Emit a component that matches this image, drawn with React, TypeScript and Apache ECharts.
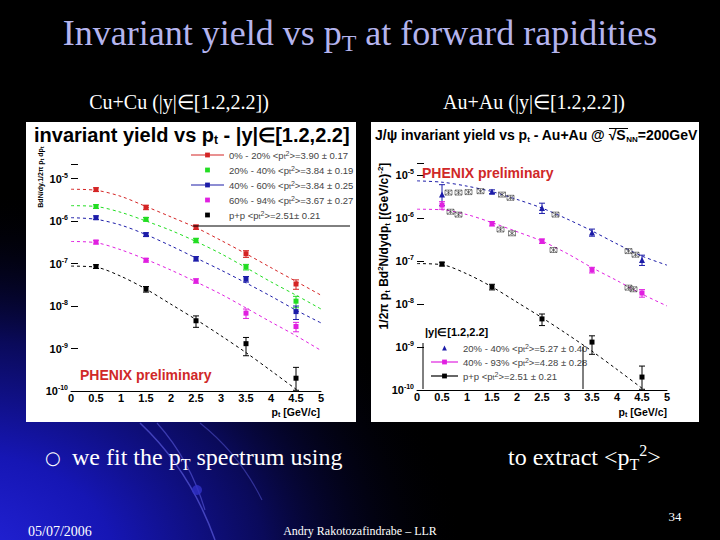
import React, { useEffect, useRef } from "react";
import * as echarts from "echarts";

// ---------- data ----------
const ptBins = [0.5, 1.5, 2.5, 3.5, 4.5];
const fitPt = [0, 0.5, 1, 1.5, 2, 2.5, 3, 3.5, 4, 4.5, 5];

// Cu+Cu
const cu0020 = [5.5e-6, 2.1e-6, 7.2e-7, 1.7e-7, 3.3e-8];
const cu2040 = [2.2e-6, 1.1e-6, 3.5e-7, 8.3e-8, 1.3e-8];
const cu4060 = [1.2e-6, 4.8e-7, 1.3e-7, 4.3e-8, 7.4e-9];
const cu6094 = [3.2e-7, 1.2e-7, 3.9e-8, 6.8e-9, 3.3e-9];
const cu0020Err = [0.1, 0.12, 0.12, 0.18, 0.25];
const cu2040Err = [0.1, 0.1, 0.12, 0.15, 0.3];
const cu4060Err = [0.1, 0.1, 0.12, 0.15, 0.35];
const cu6094Err = [0.1, 0.1, 0.12, 0.25, 0.25];
const cu0020Fit = [5.6e-6, 5.3e-6, 3.8e-6, 2.2e-6, 1.25e-6, 7e-7, 3.5e-7, 1.7e-7, 8e-8, 3.8e-8, 1.8e-8];
const cu2040Fit = [2.3e-6, 2.2e-6, 1.6e-6, 1.0e-6, 6e-7, 3.3e-7, 1.7e-7, 8e-8, 3.7e-8, 1.8e-8, 8.5e-9];
const cu4060Fit = [1.2e-6, 1.1e-6, 8e-7, 4.8e-7, 2.6e-7, 1.35e-7, 7e-8, 3.5e-8, 1.7e-8, 8e-9, 4e-9];
const cu6094Fit = [3.3e-7, 3.1e-7, 2.1e-7, 1.25e-7, 7e-8, 3.7e-8, 1.9e-8, 9e-9, 4.2e-9, 2e-9, 9e-10];

// p+p
const ppYield = [8.5e-8, 2.5e-8, 4.5e-9, 1.3e-9, 2.0e-10];
const ppErrUp = [0.1, 0.15, 0.3, 0.4, 0.8];
const ppErrDn = [0.1, 0.15, 0.3, 0.48, 0.48];
const ppFit = [8.7e-8, 8.2e-8, 5e-8, 2.5e-8, 1.1e-8, 4.8e-9, 2e-9, 8e-10, 3e-10, 1.1e-10, 4e-11];

// Au+Au
const au2040 = [3.5e-6, 4.1e-6, 1.7e-6, 4.6e-7, 1.05e-7];
const au2040ErrUp = [0.7, 0.1, 0.3, 0.2, 0.3];
const au2040ErrDn = [0.45, 0.1, 0.25, 0.18, 0.25];
const au4093 = [2.0e-6, 7.4e-7, 2.9e-7, 6.2e-8, 1.8e-8];
const au4093Err = [0.2, 0.12, 0.12, 0.15, 0.2];
const au2040Fit = [7.3e-6, 6.8e-6, 5.5e-6, 4.1e-6, 2.7e-6, 1.7e-6, 9.5e-7, 5e-7, 2.5e-7, 1.3e-7, 8e-8];
const au4093Fit = [1.6e-6, 1.55e-6, 1.2e-6, 7.8e-7, 4.8e-7, 2.9e-7, 1.5e-7, 7e-8, 3.5e-8, 1.7e-8, 9e-9];
const auHatchBlue = [[0.63, 3.9e-6], [0.83, 3.9e-6], [1.03, 4.0e-6], [1.27, 4.2e-6], [1.7, 3.5e-6], [1.87, 2.95e-6], [2.77, 1.2e-6], [4.23, 1.7e-7], [4.37, 1.4e-7]];
const auHatchMag = [[0.67, 1.4e-6], [0.83, 1.2e-6], [1.67, 5.4e-7], [1.9, 4.4e-7], [2.73, 1.8e-7], [4.23, 2.4e-8], [4.33, 2.2e-8]];

const xTickLabels = ["0", "0.5", "1", "1.5", "2", "2.5", "3", "3.5", "4", "4.5", "5"];

// ---------- names / legend texts ----------
const N_CU0020 = "Cu 0% - 20%";
const N_CU2040 = "Cu 20% - 40%";
const N_CU4060 = "Cu 40% - 60%";
const N_CU6094 = "Cu 60% - 94%";
const N_CUPP = "Cu p+p";
const N_AU2040 = "Au 20% - 40%";
const N_AU4093 = "Au 40% - 93%";
const N_AUPP = "Au p+p";

const legendText: Record<string, string> = {
  [N_CU0020]: "0% - 20% <p{sub|t}{sup|2}>=3.90 ± 0.17",
  [N_CU2040]: "20% - 40% <p{sub|t}{sup|2}>=3.84 ± 0.19",
  [N_CU4060]: "40% - 60% <p{sub|t}{sup|2}>=3.84 ± 0.25",
  [N_CU6094]: "60% - 94% <p{sub|t}{sup|2}>=3.67 ± 0.27",
  [N_CUPP]: "p+p <p{sub|t}{sup|2}>=2.51± 0.21",
  [N_AU2040]: "20% - 40% <p{sub|t}{sup|2}>=5.27 ± 0.40",
  [N_AU4093]: "40% - 93% <p{sub|t}{sup|2}>=4.28 ± 0.28",
  [N_AUPP]: "p+p <p{sub|t}{sup|2}>=2.51 ± 0.21",
};

const RED = "#d42424";
const GREEN = "#22dd22";
const BLUE = "#1c1ca8";
const MAG = "#e020e0";
const BLK = "#000000";

const SANS = "Liberation Sans, Arial, sans-serif";
const SERIF = "Liberation Serif, Times New Roman, serif";

function App() {
  const ref = useRef<HTMLDivElement>(null);

  useEffect(() => {
    if (!ref.current) return;
    const chart = echarts.init(ref.current, null, { renderer: "svg" });

    const pts = (vals: number[]) => ptBins.map((x, i) => [x, vals[i]]);
    const fit = (vals: number[]) => fitPt.map((x, i) => [x, vals[i]]);
    const errs = (vals: number[], up: number[], dn: number[]) =>
      ptBins.map((x, i) => [x, vals[i] * (1 - dn[i]), vals[i] * (1 + up[i])]);

    const errSeries = (idx: number, data: number[][], color: string) => ({
      type: "custom",
      xAxisIndex: idx,
      yAxisIndex: idx,
      data,
      encode: { x: 0, y: [1, 2] },
      silent: true,
      z: 3,
      renderItem: (params: any, api: any) => {
        const x = api.value(0);
        const lo = api.coord([x, api.value(1)]);
        const hi = api.coord([x, api.value(2)]);
        const w = 3;
        const style = { stroke: color, lineWidth: 1 };
        return {
          type: "group",
          children: [
            { type: "line", shape: { x1: lo[0], y1: lo[1], x2: hi[0], y2: hi[1] }, style },
            { type: "line", shape: { x1: lo[0] - w, y1: lo[1], x2: lo[0] + w, y2: lo[1] }, style },
            { type: "line", shape: { x1: hi[0] - w, y1: hi[1], x2: hi[0] + w, y2: hi[1] }, style },
          ],
        };
      },
    });

    const dataSeries = (idx: number, name: string, vals: number[], color: string, symbol = "rect", size = 5) => ({
      type: "line",
      name,
      xAxisIndex: idx,
      yAxisIndex: idx,
      data: pts(vals),
      symbol,
      symbolSize: size,
      showSymbol: true,
      itemStyle: { color },
      lineStyle: { opacity: 0, color },
      z: 4,
    });

    const fitSeries = (idx: number, vals: number[], color: string) => ({
      type: "line",
      xAxisIndex: idx,
      yAxisIndex: idx,
      data: fit(vals),
      smooth: 0.3,
      showSymbol: false,
      silent: true,
      lineStyle: { color, width: 1, type: [3, 3] },
      z: 2,
    });

    const yLabel = {
      margin: 3,
      color: "#000",
      fontFamily: SANS,
      formatter: (v: number) => {
        const e = Math.log10(v);
        const r = Math.round(e);
        if (Math.abs(e - r) > 0.01) return "";
        return `{b|10}{e|${r}}`;
      },
      rich: {
        b: { fontSize: 11, fontWeight: "bold", fontFamily: SANS, lineHeight: 14, color: "#000" },
        e: { fontSize: 7, fontWeight: "bold", fontFamily: SANS, lineHeight: 8, verticalAlign: "top", color: "#000" },
      },
    };

    const xAxisCommon = {
      type: "value",
      min: 0,
      max: 5,
      interval: 0.5,
      axisLine: { show: true, lineStyle: { color: "#000", width: 1 } },
      axisTick: { show: false },
      splitLine: { show: false },
      axisLabel: {
        color: "#000",
        fontSize: 11,
        fontWeight: "bold",
        fontFamily: SANS,
        margin: 1,
        lineHeight: 12,
        formatter: (v: number) => xTickLabels[Math.round(v * 2)] ?? String(v),
      },
    };

    const yAxisCommon = {
      type: "log",
      min: 1e-10,
      axisLine: { show: false },
      axisTick: { show: true, inside: true, length: 7, lineStyle: { color: "#000" } },
      splitLine: { show: false },
      axisLabel: yLabel,
    };

    const richSub = (fs: number) => ({
      sub: { fontSize: fs, fontWeight: "bold", fontFamily: SANS, lineHeight: fs, verticalAlign: "bottom", color: "#000" },
      sup: { fontSize: fs, fontWeight: "bold", fontFamily: SANS, lineHeight: fs, verticalAlign: "top", color: "#000" },
    });

    const legendRich = {
      sub: { fontSize: 7, fontFamily: SANS, lineHeight: 7, verticalAlign: "bottom", color: "#444" },
      sup: { fontSize: 7, fontFamily: SANS, lineHeight: 7, verticalAlign: "top", color: "#444" },
    };

    const txt = (x: number, y: number, text: string, opts: any = {}) => ({
      type: "text",
      x,
      y,
      z: 20,
      rotation: opts.rotation ?? 0,
      style: {
        text,
        fill: opts.fill ?? "#000",
        font: opts.font,
        textAlign: opts.align ?? "left",
        textVerticalAlign: "middle",
        lineHeight: opts.lineHeight,
        rich: opts.rich,
      },
    });

    const option: any = {
      animation: false,
      backgroundColor: "#000",
      grid: [
        { left: 71, top: 164, width: 250, height: 227, containLabel: false },
        { left: 417, top: 163, width: 250, height: 227, containLabel: false },
      ],
      xAxis: [{ ...xAxisCommon, gridIndex: 0 }, { ...xAxisCommon, gridIndex: 1 }],
      yAxis: [
        { ...yAxisCommon, gridIndex: 0, max: 2.2e-5 },
        { ...yAxisCommon, gridIndex: 1, max: 1.9e-5 },
      ],
      legend: [
        {
          left: 185,
          top: 145,
          orient: "vertical",
          itemWidth: 33,
          itemHeight: 6,
          itemGap: 5,
          selectedMode: false,
          textStyle: { fontSize: 9.5, fontFamily: SANS, color: "#444", rich: legendRich },
          formatter: (n: string) => legendText[n] ?? n,
          data: [
            { name: N_CU0020, lineStyle: { opacity: 1, width: 1.2, color: RED } },
            { name: N_CU2040 },
            { name: N_CU4060, lineStyle: { opacity: 1, width: 1.2, color: BLUE } },
            { name: N_CU6094 },
            { name: N_CUPP },
          ],
        },
        {
          left: 425,
          top: 338,
          orient: "vertical",
          itemWidth: 27,
          itemHeight: 6,
          itemGap: 4,
          selectedMode: false,
          textStyle: { fontSize: 9.5, fontFamily: SANS, color: "#444", rich: legendRich },
          formatter: (n: string) => legendText[n] ?? n,
          data: [
            { name: N_AU2040 },
            { name: N_AU4093, lineStyle: { opacity: 1, width: 1.2, color: MAG } },
            { name: N_AUPP, lineStyle: { opacity: 1, width: 1.2, color: BLK } },
          ],
        },
      ],
      series: [
        // Cu+Cu fits
        fitSeries(0, cu0020Fit, RED),
        fitSeries(0, cu2040Fit, GREEN),
        fitSeries(0, cu4060Fit, BLUE),
        fitSeries(0, cu6094Fit, MAG),
        fitSeries(0, ppFit, BLK),
        // Cu+Cu errors
        errSeries(0, errs(cu0020, cu0020Err, cu0020Err), RED),
        errSeries(0, errs(cu2040, cu2040Err, cu2040Err), GREEN),
        errSeries(0, errs(cu4060, cu4060Err, cu4060Err), BLUE),
        errSeries(0, errs(cu6094, cu6094Err, cu6094Err), MAG),
        errSeries(0, errs(ppYield, ppErrUp, ppErrDn), BLK),
        // Cu+Cu points
        dataSeries(0, N_CU0020, cu0020, RED),
        dataSeries(0, N_CU2040, cu2040, GREEN),
        dataSeries(0, N_CU4060, cu4060, BLUE),
        dataSeries(0, N_CU6094, cu6094, MAG),
        dataSeries(0, N_CUPP, ppYield, BLK),
        // Au+Au fits
        fitSeries(1, au2040Fit, BLUE),
        fitSeries(1, au4093Fit, MAG),
        fitSeries(1, ppFit, BLK),
        // hatched points
        {
          type: "scatter",
          xAxisIndex: 1,
          yAxisIndex: 1,
          data: auHatchBlue,
          symbol: "path://M0 0H10V8H0ZM0 0L10 8M10 0L0 8M5 0V8",
          symbolSize: [7, 5],
          itemStyle: { color: "rgba(0,0,0,0)", borderColor: "#333", borderWidth: 0.7 },
          silent: true,
          z: 3,
        },
        {
          type: "scatter",
          xAxisIndex: 1,
          yAxisIndex: 1,
          data: auHatchMag,
          symbol: "path://M0 0H10V8H0ZM0 0L10 8M10 0L0 8M5 0V8",
          symbolSize: [7, 5],
          itemStyle: { color: "rgba(0,0,0,0)", borderColor: "#333", borderWidth: 0.7 },
          silent: true,
          z: 3,
        },
        // Au+Au errors
        errSeries(1, errs(au2040, au2040ErrUp, au2040ErrDn), BLUE),
        errSeries(1, errs(au4093, au4093Err, au4093Err), MAG),
        errSeries(1, errs(ppYield, ppErrUp, ppErrDn), BLK),
        // Au+Au points
        dataSeries(1, N_AU2040, au2040, BLUE, "triangle", 6),
        dataSeries(1, N_AU4093, au4093, MAG),
        dataSeries(1, N_AUPP, ppYield, BLK),
      ],
      graphic: [
        // slide background glow
        {
          type: "rect",
          z: -30,
          silent: true,
          shape: { x: 0, y: 0, width: 720, height: 540 },
          style: {
            fill: {
              type: "radial",
              x: -0.05,
              y: 1.05,
              r: 0.7,
              colorStops: [
                { offset: 0, color: "#2424dc" },
                { offset: 0.3, color: "#1616b4" },
                { offset: 0.6, color: "#0a0a5a" },
                { offset: 1, color: "rgba(0,0,0,0)" },
              ],
            },
          },
        },
        {
          type: "bezierCurve",
          z: -25,
          silent: true,
          shape: { x1: 140, y1: 423, cpx1: 190, cpy1: 470, x2: 215, y2: 540 },
          style: { stroke: "rgba(90,90,220,0.7)", lineWidth: 1.5, fill: null },
        },
        {
          type: "bezierCurve",
          z: -25,
          silent: true,
          shape: { x1: 157, y1: 423, cpx1: 190, cpy1: 460, x2: 205, y2: 510 },
          style: { stroke: "rgba(90,90,220,0.6)", lineWidth: 1.2, fill: null },
        },
        {
          type: "bezierCurve",
          z: -25,
          silent: true,
          shape: { x1: 200, y1: 423, cpx1: 240, cpy1: 455, x2: 262, y2: 500 },
          style: { stroke: "rgba(90,90,220,0.5)", lineWidth: 1.2, fill: null },
        },
        {
          type: "circle",
          z: -24,
          silent: true,
          shape: { cx: 197, cy: 490, r: 5 },
          style: { fill: "rgba(50,50,200,0.8)" },
        },
        // white panels
        {
          type: "rect",
          z: -20,
          silent: true,
          shape: { x: 26, y: 122, width: 330, height: 300 },
          style: { fill: "#fff" },
        },
        {
          type: "rect",
          z: -20,
          silent: true,
          shape: { x: 371, y: 122, width: 328, height: 300 },
          style: { fill: "#fff" },
        },
        // legend frame lines
        { type: "line", z: 5, silent: true, shape: { x1: 193, y1: 226, x2: 350, y2: 226 }, style: { stroke: "#000", lineWidth: 1 } },
        { type: "line", z: 5, silent: true, shape: { x1: 423, y1: 343, x2: 423, y2: 389 }, style: { stroke: "#000", lineWidth: 1 } },
        { type: "line", z: 5, silent: true, shape: { x1: 583, y1: 347, x2: 583, y2: 389 }, style: { stroke: "#000", lineWidth: 1 } },
        // chart titles
        txt(34, 135, "invariant yield vs p{sub|t} - |y|∈[1.2,2.2]", {
          font: `bold 20px ${SANS}`,
          lineHeight: 22,
          rich: { sub: { fontSize: 12, fontWeight: "bold", fontFamily: SANS, lineHeight: 12, verticalAlign: "bottom" } },
        }),
        txt(375, 135, "J/ψ invariant yield vs p{sub|t} - Au+Au @ √S{sub|NN}=200GeV", {
          font: `bold 14px ${SANS}`,
          lineHeight: 17,
          rich: { sub: { fontSize: 8, fontWeight: "bold", fontFamily: SANS, lineHeight: 8, verticalAlign: "bottom" } },
        }),
        { type: "line", z: 20, silent: true, shape: { x1: 609, y1: 128.5, x2: 628, y2: 128.5 }, style: { stroke: "#000", lineWidth: 1 } },
        // axis titles
        txt(40, 177, "BdN/dy.1/2π p{sub|t} dp{sub|t}", {
          font: `bold 7px ${SANS}`,
          lineHeight: 10,
          align: "center",
          rotation: Math.PI / 2,
          rich: richSub(5.5),
        }),
        txt(384, 246, "1/2π p{sub|t} Bd{sup|2}N/dydp{sub|t} [(GeV/c){sup|-2}]", {
          font: `bold 12px ${SANS}`,
          lineHeight: 15,
          align: "center",
          rotation: Math.PI / 2,
          rich: richSub(8),
        }),
        txt(320, 412, "p{sub|t} [GeV/c]", { font: `bold 10.5px ${SANS}`, lineHeight: 12, align: "right", rich: richSub(7) }),
        txt(667, 412, "p{sub|t} [GeV/c]", { font: `bold 10.5px ${SANS}`, lineHeight: 12, align: "right", rich: richSub(7) }),
        // PHENIX preliminary
        txt(80, 375, "PHENIX preliminary", { font: `bold 14px ${SANS}`, fill: "#d02828" }),
        txt(422, 173, "PHENIX preliminary", { font: `bold 14px ${SANS}`, fill: "#d02828" }),
        txt(425, 332, "|y|∈[1.2,2.2]", { font: `bold 11px ${SANS}` }),
        // slide texts
        txt(360, 33, "Invariant yield vs p{sub|T} at forward rapidities", {
          font: `36px ${SERIF}`,
          fill: "#b4b4ee",
          align: "center",
          lineHeight: 44,
          rich: { sub: { fontSize: 24, fontFamily: SERIF, lineHeight: 24, verticalAlign: "bottom", color: "#b4b4ee" } },
        }),
        txt(179, 102, "Cu+Cu (|y|∈[1.2,2.2])", { font: `20px ${SERIF}`, fill: "#fff", align: "center" }),
        txt(534, 102, "Au+Au (|y|∈[1.2,2.2])", { font: `20px ${SERIF}`, fill: "#fff", align: "center" }),
        txt(45, 457, "○", { font: `18px DejaVu Sans, sans-serif`, fill: "#fff" }),
        txt(72, 457, "we fit the p{sub|T} spectrum using", {
          font: `24px ${SERIF}`,
          fill: "#fff",
          lineHeight: 30,
          rich: { sub: { fontSize: 16, fontFamily: SERIF, lineHeight: 16, verticalAlign: "bottom", color: "#fff" } },
        }),
        txt(508, 457, "to extract <p{sub|T}{sup|2}>", {
          font: `24px ${SERIF}`,
          fill: "#fff",
          lineHeight: 30,
          rich: {
            sub: { fontSize: 16, fontFamily: SERIF, lineHeight: 16, verticalAlign: "bottom", color: "#fff" },
            sup: { fontSize: 16, fontFamily: SERIF, lineHeight: 16, verticalAlign: "top", color: "#fff" },
          },
        }),
        txt(675, 516, "34", { font: `13px ${SERIF}`, fill: "#fff", align: "center" }),
        txt(28, 531, "05/07/2006", { font: `14px ${SERIF}`, fill: "#fff" }),
        txt(360, 531, "Andry Rakotozafindrabe – LLR", { font: `12px ${SERIF}`, fill: "#fff", align: "center" }),
      ],
    };

    chart.setOption(option);
    return () => {
      chart.dispose();
    };
  }, []);

  return (
    <div
      ref={ref}
      style={{ position: "fixed", left: 0, top: 0, width: 720, height: 540 }}
    />
  );
}

export default App;
